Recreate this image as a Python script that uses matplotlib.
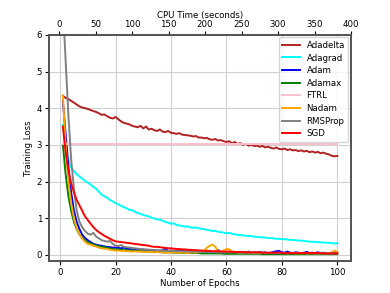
import matplotlib
matplotlib.use("Agg")
import matplotlib.pyplot as plt
import numpy as np

epochs = list(range(1, 101))

adadelta = [4.34, 4.28, 4.25, 4.20, 4.15, 4.10, 4.05, 4.02, 4.00, 3.98,
            3.95, 3.92, 3.90, 3.86, 3.82, 3.83, 3.78, 3.74, 3.72, 3.76,
            3.70, 3.64, 3.60, 3.58, 3.56, 3.52, 3.50, 3.48, 3.52, 3.45,
            3.50, 3.42, 3.44, 3.40, 3.38, 3.42, 3.36, 3.35, 3.38, 3.33,
            3.32, 3.30, 3.32, 3.28, 3.27, 3.26, 3.25, 3.23, 3.24, 3.20,
            3.20, 3.18, 3.19, 3.15, 3.14, 3.16, 3.12, 3.13, 3.10, 3.08,
            3.10, 3.04, 3.08, 3.02, 3.05, 3.00, 3.03, 2.98, 3.00, 2.97,
            2.98, 2.95, 2.97, 2.93, 2.95, 2.92, 2.90, 2.93, 2.89, 2.88,
            2.90, 2.86, 2.88, 2.85, 2.86, 2.83, 2.85, 2.82, 2.84, 2.80,
            2.82, 2.79, 2.81, 2.77, 2.79, 2.76, 2.74, 2.70, 2.69, 2.70]

adagrad = [3.55, 2.90, 2.55, 2.38, 2.28, 2.20, 2.14, 2.08, 2.02, 1.97,
           1.92, 1.86, 1.80, 1.72, 1.64, 1.60, 1.56, 1.50, 1.46, 1.41,
           1.38, 1.34, 1.30, 1.27, 1.23, 1.22, 1.18, 1.14, 1.12, 1.09,
           1.07, 1.05, 1.02, 0.99, 0.97, 0.96, 0.93, 0.90, 0.88, 0.85,
           0.86, 0.82, 0.80, 0.79, 0.77, 0.78, 0.75, 0.74, 0.75, 0.73,
           0.71, 0.70, 0.68, 0.67, 0.65, 0.66, 0.63, 0.62, 0.61, 0.59,
           0.60, 0.58, 0.56, 0.55, 0.54, 0.53, 0.52, 0.52, 0.51, 0.50,
           0.49, 0.48, 0.48, 0.47, 0.46, 0.46, 0.45, 0.44, 0.44, 0.43,
           0.43, 0.42, 0.41, 0.41, 0.40, 0.39, 0.39, 0.38, 0.37, 0.36,
           0.36, 0.35, 0.35, 0.34, 0.34, 0.33, 0.33, 0.32, 0.31, 0.32]

adam = [4.20, 3.30, 2.40, 1.70, 1.20, 0.90, 0.70, 0.55, 0.46, 0.40,
        0.35, 0.30, 0.28, 0.26, 0.25, 0.23, 0.22, 0.21, 0.20, 0.20,
        0.19, 0.18, 0.20, 0.17, 0.16, 0.17, 0.15, 0.16, 0.14, 0.15,
        0.13, 0.14, 0.12, 0.13, 0.12, 0.11, 0.12, 0.18, 0.10, 0.12,
        0.10, 0.11, 0.09, 0.13, 0.10, 0.09, 0.10, 0.08, 0.11, 0.09,
        0.08, 0.10, 0.08, 0.09, 0.07, 0.08, 0.13, 0.08, 0.07, 0.08,
        0.07, 0.09, 0.07, 0.06, 0.08, 0.06, 0.07, 0.09, 0.06, 0.07,
        0.06, 0.08, 0.06, 0.07, 0.05, 0.06, 0.08, 0.10, 0.11, 0.07,
        0.06, 0.09, 0.06, 0.05, 0.07, 0.06, 0.05, 0.06, 0.08, 0.05,
        0.06, 0.05, 0.07, 0.05, 0.06, 0.04, 0.05, 0.06, 0.05, 0.05]

adamax = [3.00, 2.20, 1.60, 1.20, 0.90, 0.70, 0.56, 0.46, 0.40, 0.35,
          0.31, 0.28, 0.26, 0.24, 0.22, 0.21, 0.19, 0.18, 0.16, 0.15,
          0.15, 0.14, 0.13, 0.13, 0.12, 0.12, 0.11, 0.11, 0.10, 0.10,
          0.09, 0.09, 0.09, 0.08, 0.08, 0.08, 0.07, 0.07, 0.07, 0.07,
          0.06, 0.06, 0.06, 0.06, 0.05, 0.05, 0.05, 0.05, 0.05, 0.05,
          0.04, 0.04, 0.04, 0.04, 0.04, 0.04, 0.04, 0.04, 0.03, 0.03,
          0.03, 0.03, 0.03, 0.03, 0.03, 0.03, 0.03, 0.03, 0.03, 0.03,
          0.03, 0.03, 0.02, 0.02, 0.02, 0.02, 0.02, 0.02, 0.02, 0.02,
          0.02, 0.02, 0.02, 0.02, 0.02, 0.02, 0.02, 0.02, 0.02, 0.02,
          0.02, 0.02, 0.02, 0.02, 0.02, 0.02, 0.02, 0.02, 0.02, 0.02]

ftrl = [3.03] * 100

nadam = [4.35, 3.00, 2.00, 1.40, 1.00, 0.72, 0.56, 0.44, 0.36, 0.30,
         0.28, 0.25, 0.23, 0.20, 0.18, 0.17, 0.16, 0.14, 0.13, 0.12,
         0.12, 0.11, 0.11, 0.10, 0.10, 0.09, 0.10, 0.09, 0.09, 0.08,
         0.09, 0.08, 0.08, 0.07, 0.08, 0.07, 0.07, 0.06, 0.07, 0.06,
         0.07, 0.06, 0.06, 0.07, 0.06, 0.05, 0.06, 0.07, 0.06, 0.08,
         0.09, 0.12, 0.20, 0.25, 0.28, 0.22, 0.10, 0.08, 0.12, 0.16,
         0.15, 0.10, 0.08, 0.07, 0.06, 0.07, 0.06, 0.07, 0.06, 0.05,
         0.06, 0.05, 0.06, 0.05, 0.05, 0.06, 0.05, 0.05, 0.06, 0.05,
         0.05, 0.04, 0.05, 0.06, 0.04, 0.05, 0.04, 0.05, 0.04, 0.04,
         0.05, 0.04, 0.04, 0.05, 0.04, 0.04, 0.05, 0.06, 0.12, 0.08]

rmsprop = [6.80, 5.30, 3.80, 2.60, 1.80, 1.20, 0.90, 0.75, 0.65, 0.58,
           0.55, 0.60, 0.50, 0.45, 0.40, 0.38, 0.36, 0.38, 0.30, 0.25,
           0.24, 0.27, 0.22, 0.21, 0.20, 0.19, 0.18, 0.17, 0.16, 0.15,
           0.15, 0.14, 0.14, 0.13, 0.13, 0.12, 0.12, 0.12, 0.11, 0.11,
           0.11, 0.10, 0.10, 0.10, 0.10, 0.09, 0.09, 0.09, 0.09, 0.09,
           0.08, 0.08, 0.08, 0.08, 0.08, 0.08, 0.07, 0.07, 0.07, 0.07,
           0.07, 0.07, 0.07, 0.07, 0.06, 0.06, 0.06, 0.06, 0.06, 0.06,
           0.06, 0.06, 0.06, 0.06, 0.05, 0.05, 0.05, 0.05, 0.05, 0.05,
           0.05, 0.05, 0.05, 0.05, 0.05, 0.05, 0.05, 0.05, 0.05, 0.05,
           0.04, 0.04, 0.04, 0.04, 0.04, 0.04, 0.04, 0.04, 0.04, 0.04]

sgd = [3.50, 2.80, 2.30, 1.95, 1.70, 1.50, 1.35, 1.20, 1.05, 0.95,
       0.85, 0.76, 0.68, 0.62, 0.57, 0.52, 0.48, 0.44, 0.40, 0.37,
       0.36, 0.35, 0.34, 0.33, 0.32, 0.31, 0.30, 0.29, 0.28, 0.27,
       0.26, 0.25, 0.23, 0.22, 0.22, 0.21, 0.20, 0.19, 0.18, 0.18,
       0.17, 0.16, 0.16, 0.15, 0.15, 0.14, 0.14, 0.13, 0.13, 0.12,
       0.12, 0.11, 0.11, 0.11, 0.10, 0.10, 0.10, 0.09, 0.09, 0.09,
       0.09, 0.08, 0.08, 0.08, 0.08, 0.08, 0.07, 0.07, 0.07, 0.07,
       0.07, 0.07, 0.06, 0.06, 0.06, 0.06, 0.06, 0.06, 0.06, 0.06,
       0.05, 0.05, 0.05, 0.05, 0.05, 0.05, 0.05, 0.05, 0.05, 0.05,
       0.05, 0.05, 0.05, 0.05, 0.04, 0.04, 0.04, 0.04, 0.04, 0.04]

series = [
    ("Adadelta", adadelta, "#b22222"),
    ("Adagrad", adagrad, "cyan"),
    ("Adam", adam, "blue"),
    ("Adamax", adamax, "green"),
    ("FTRL", ftrl, "pink"),
    ("Nadam", nadam, "orange"),
    ("RMSProp", rmsprop, "gray"),
    ("SGD", sgd, "red"),
]

cpu_xlim = (-13.7, 400)
cpu_ticks = [0, 50, 100, 150, 200, 250, 300, 350, 400]

fs = 6.2
fig = plt.figure(figsize=(3.9, 2.93), dpi=100)
ax = fig.add_axes([0.126, 0.110, 0.774, 0.771])

for name, vals, col in series:
    ax.plot(epochs, vals, color=col, lw=1.4, label=name)

ax.set_ylim(-0.16, 6)
ax.set_xticks([0, 20, 40, 60, 80, 100])
ax.set_yticks([0, 1, 2, 3, 4, 5, 6])
ax.grid(True, color="#d0d0d0", lw=0.8)
ax.set_axisbelow(True)
ax.set_xlabel("Number of Epochs", fontsize=fs, labelpad=2)
ax.set_ylabel("Training Loss", fontsize=fs, labelpad=3)
ax.tick_params(labelsize=fs, length=3, pad=2)
for s in ax.spines.values():
    s.set_color("#555555")
    s.set_linewidth(1.3)

ax2 = ax.twiny()
ax2.set_xlim(*cpu_xlim)
ax2.set_xticks(cpu_ticks)
ax2.tick_params(labelsize=fs, length=3, pad=1)
ax2.set_xlabel("CPU Time (seconds)", fontsize=fs, labelpad=2)
for s in ax2.spines.values():
    s.set_color("#555555")
    s.set_linewidth(1.3)

leg = ax.legend(loc="upper right", fontsize=fs, handlelength=2.0,
                borderpad=0.4, labelspacing=0.42, handletextpad=0.8,
                borderaxespad=0.3, framealpha=0.8)

fig.savefig("out.png", dpi=100)
